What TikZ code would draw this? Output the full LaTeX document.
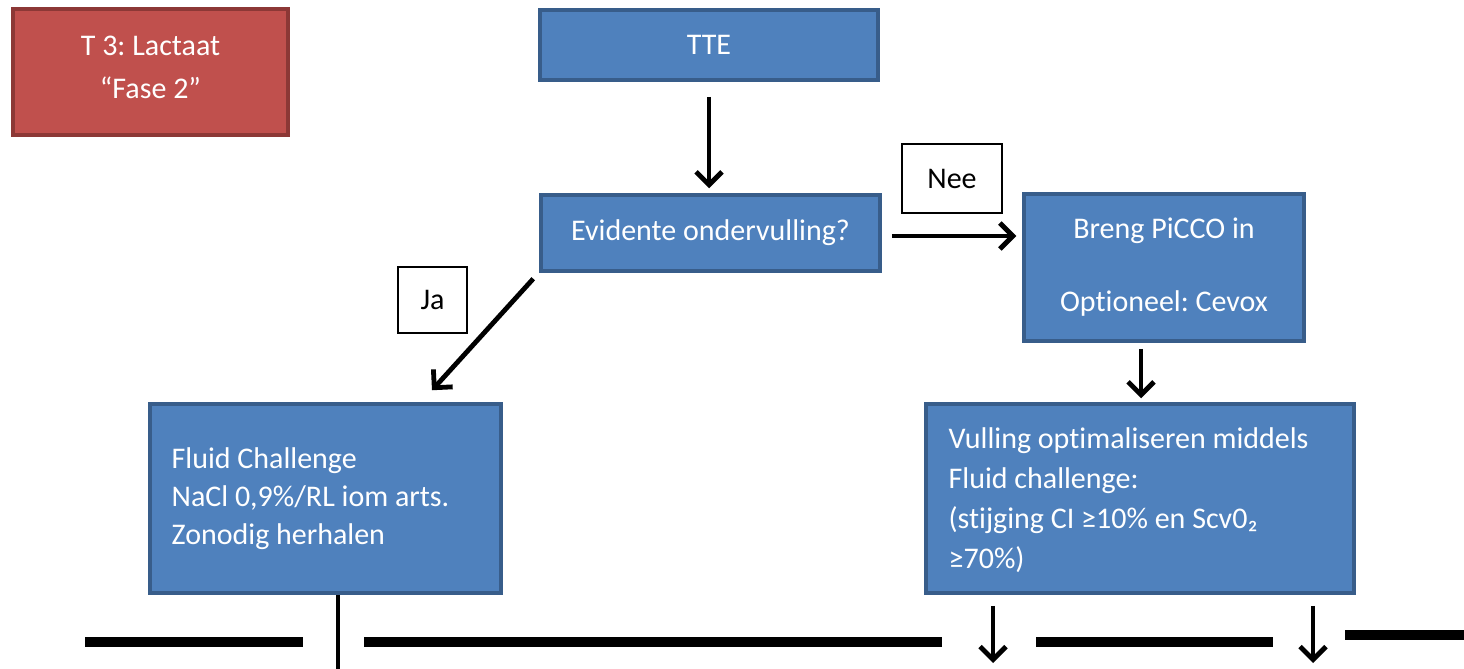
\documentclass[tikz,border=0pt]{standalone}
\usepackage{fontspec}
\setmainfont{Carlito}[Ligatures=NoCommon]
\usetikzlibrary{arrows.meta,calc}
\frenchspacing

\definecolor{boxblue}{HTML}{4F81BD}
\definecolor{boxblueline}{HTML}{385D8A}
\definecolor{boxred}{HTML}{C0504D}
\definecolor{boxredline}{HTML}{8C3836}

\tikzset{
  bluebox/.style={draw=boxblueline, fill=boxblue, line width=1.75pt, text=white,
    inner sep=0pt, align=center, font=\fontsize{15}{19.5}\selectfont},
  redbox/.style={draw=boxredline, fill=boxred, line width=1.75pt, text=white,
    inner sep=0pt, align=center, font=\fontsize{15}{21.5}\selectfont},
  labelbox/.style={draw=black, fill=white, line width=0.6pt, inner sep=0pt,
    font=\fontsize{15}{17}\selectfont},
  boxtext/.style={text=white, inner sep=0pt, align=left, anchor=west},
  flow/.style={->, line width=2.4pt},
  bar/.style={line width=5pt},
}

\begin{document}
\begin{tikzpicture}[x=0.5pt,y=-0.5pt,>={Straight Barb[length=6.5pt,width=13pt]}]
		\useasboundingbox (0,0) rectangle (1464,669);
		
		% Titel
		\node[redbox, minimum width=137.5pt, minimum height=63pt] (lactaat) at (150.5,72) {};
		\node[boxtext, anchor=center, align=center, font=\fontsize{15}{21.5}\selectfont] (lactaattext)
		  at ([yshift=2.5pt]lactaat) {T 3: Lactaat\\“Fase 2”};
		
		% Blokken
		\node[bluebox, minimum width=169pt, minimum height=35pt] (tte) at (709,45) {TTE};
		\node[bluebox, minimum width=169.5pt, minimum height=38pt] (evident) at (710.5,233)
		  {Evidente ondervulling?};
		\node[bluebox, minimum width=140pt, minimum height=73.5pt] (picco) at (1164,267.5)
		  {Breng PiCCO in\\[17pt]Optioneel: Cevox};
		\node[bluebox, minimum width=175.5pt, minimum height=94.5pt] (fluid) at (325.5,498.5) {};
		\node[bluebox, minimum width=214pt, minimum height=94.5pt] (vulling) at (1140,498.5) {};
		
		% Teksten in de blokken
		\node[boxtext, font=\fontsize{15}{19}\selectfont] (fluidtext) at ([xshift=11.5pt]fluid.west)
		  {Fluid Challenge\\NaCl 0,9\%/RL iom arts.\\Zonodig herhalen};
		\node[boxtext, font=\fontsize{15}{20}\selectfont] (vullingtext) at ([xshift=12pt,yshift=-0.75pt]vulling.west)
		  {Vulling optimaliseren middels\\Fluid challenge:\\(stijging CI ≥10\% en Scv0₂\\≥70\%)};
		
		% Labels
		\node[labelbox, minimum width=50pt, minimum height=34.5pt] (nee) at (952,178.5) {Nee};
		\node[labelbox, minimum width=34.5pt, minimum height=33pt] (ja) at (432.5,300) {Ja};
		
		% Pijlen
		\draw[flow, shorten <=7.5pt, shorten >=2.5pt] (tte) -- (tte |- evident.north);
		\draw[flow, shorten <=5pt, shorten >=3pt] ([yshift=-1.5pt]evident.east) -- ([yshift=-1.5pt]evident.east -| picco.west);
		\draw[flow] ([xshift=-3pt,yshift=-3pt]evident.south west) -- ([xshift=53.25pt,yshift=6pt]fluid.north);
		\draw[flow, shorten <=3pt, shorten >=2pt] ([xshift=0.5pt]vulling.north |- picco.south) -- ([xshift=0.5pt]vulling.north);
		
		% Vervolg onderaan
		\coordinate (fluidend) at (338,669);
		\draw[line width=2.2pt] (fluidend |- fluid.south) -- (fluidend);
		\coordinate (leftend) at (993,663);
		\coordinate (rightend) at (1313,663);
		\draw[flow, shorten <=5.5pt] (leftend |- vulling.south) -- (leftend);
		\draw[flow, shorten <=5.5pt] (rightend |- vulling.south) -- (rightend);
		
		% Balken
		\draw[bar] (85,642) -- (303,642);
		\draw[bar] (364,642) -- (942,642);
		\draw[bar] (1036,642) -- (1273,642);
		\draw[bar] (1345,635) -- (1464,635);
	\end{tikzpicture}
\end{document}
